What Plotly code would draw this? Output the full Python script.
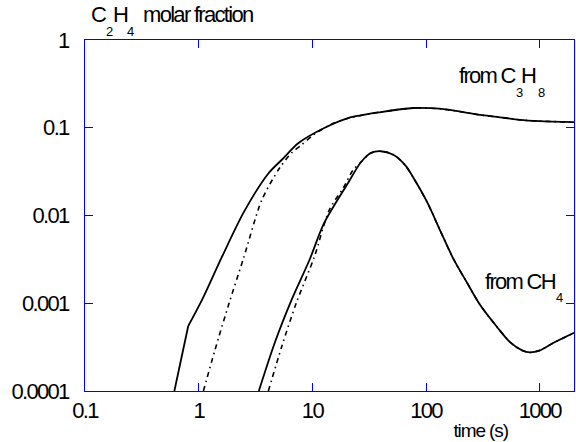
import plotly.graph_objects as go

# ---------------- data ----------------
# C2H4 molar fraction from C3H8, solid curve
c3_solid_t = [0.611, 0.809]
c3_solid_y = [1.0e-4, 5.5e-4]
c3_solid2_t = [0.809, 1.07, 1.60, 2.50, 4.13, 5.36, 7.55, 12.7, 20.6, 40, 77.8, 109, 154, 299, 421, 668, 1000, 2000]
c3_solid2_y = [5.5e-4, 1.09e-3, 3.37e-3, 0.011, 0.0305, 0.0429, 0.067, 0.0993, 0.129, 0.151, 0.168, 0.167, 0.161, 0.140, 0.133, 0.123, 0.119, 0.116]

# C2H4 from C3H8, dash-dot curve
c3_dd_t = [1.10, 1.39, 1.85, 2.50, 3.59, 5.15, 6.56, 8.02, 10.2, 14.7, 20.6, 40, 77.8, 109, 154, 299, 421, 668, 1000, 2000]
c3_dd_y = [1.0e-4, 2.93e-4, 1.0e-3, 3.37e-3, 0.0150, 0.0348, 0.0516, 0.0636, 0.0827, 0.110, 0.128, 0.151, 0.168, 0.167, 0.161, 0.140, 0.133, 0.123, 0.119, 0.116]

# C2H4 from CH4, solid curve
ch4_solid_t = [3.38, 4.66, 6.56, 9.42, 12.7, 20.6, 26.8, 32.7, 40, 52, 66, 80, 103, 134, 174, 230, 299, 421, 547, 700, 820, 1000, 1300, 2000]
ch4_solid_y = [1.0e-4, 3.52e-4, 1.09e-3, 3.11e-3, 8.22e-3, 0.0235, 0.0407, 0.0516, 0.054, 0.049, 0.037, 0.025, 0.0139, 6.6e-3, 3.2e-3, 1.70e-3, 9.55e-4, 5.36e-4, 3.6e-4, 2.9e-4, 2.75e-4, 2.9e-4, 3.5e-4, 4.6e-4]

# C2H4 from CH4, dash-dot curve
ch4_dd_t = [4.1, 5.36, 7.2, 10.4, 14.1, 18.7, 22.8, 26.8, 32.7, 40, 52, 66, 80, 103, 134, 174, 230, 299, 421, 547, 700, 820, 1000, 1300, 2000]
ch4_dd_y = [1.0e-4, 3.17e-4, 1.0e-3, 3.37e-3, 0.0116, 0.0206, 0.033, 0.0407, 0.0516, 0.054, 0.049, 0.037, 0.025, 0.0139, 6.6e-3, 3.2e-3, 1.70e-3, 9.55e-4, 5.36e-4, 3.6e-4, 2.9e-4, 2.75e-4, 2.9e-4, 3.5e-4, 4.6e-4]

x_tickvals = [0.1, 1, 10, 100, 1000]
x_ticktext = ["0.1", "1", "10", "100", "1000"]
y_tickvals = [0.0001, 0.001, 0.01, 0.1, 1]
y_ticktext = ["0.0001", "0.001", "0.01", "0.1", "1"]

# ---------------- figure ----------------
W, H = 576, 442
ML, MR, MT, MB = 82, 1, 40, 51
FONT = "Liberation Sans, Arial, Helvetica, sans-serif"
BLUE = "rgb(0,0,255)"
DASHDOT = "5px,4px,1.5px,4px"

fig = go.Figure()
fig.add_trace(go.Scatter(x=ch4_dd_t, y=ch4_dd_y, mode="lines",
                         line=dict(color="black", width=1.6, dash=DASHDOT, shape="spline", smoothing=0.8)))
fig.add_trace(go.Scatter(x=c3_dd_t, y=c3_dd_y, mode="lines",
                         line=dict(color="black", width=1.6, dash=DASHDOT, shape="spline", smoothing=0.8)))
fig.add_trace(go.Scatter(x=c3_solid_t, y=c3_solid_y, mode="lines",
                         line=dict(color="black", width=1.8)))
fig.add_trace(go.Scatter(x=c3_solid2_t, y=c3_solid2_y, mode="lines",
                         line=dict(color="black", width=1.8, shape="spline", smoothing=0.8)))
fig.add_trace(go.Scatter(x=ch4_solid_t, y=ch4_solid_y, mode="lines",
                         line=dict(color="black", width=1.8, shape="spline", smoothing=0.8)))

axis_common = dict(type="log", showgrid=False, zeroline=False, showline=True,
                   linecolor=BLUE, linewidth=1, mirror="ticks", ticks="inside",
                   ticklen=8, tickwidth=1, tickcolor=BLUE,
                   tickfont=dict(family=FONT, size=22, color="black"))
fig.update_xaxes(range=[-1, 3.30103], tickvals=x_tickvals, ticktext=x_ticktext,
                 ticklabelstandoff=0, **axis_common)
fig.update_yaxes(range=[-4, 0], tickvals=y_tickvals, ticktext=y_ticktext,
                 ticklabelstandoff=11, **axis_common)

pw, ph = W - ML - MR, H - MT - MB


def px(xpix):
    return (xpix - ML) / pw


def py(ypix):
    return (H - MB - ypix) / ph


def label(text, x, y, size, anchor="left"):
    fig.add_annotation(text=text, xref="paper", yref="paper", x=px(x), y=py(y),
                       xanchor=anchor, yanchor="middle", showarrow=False,
                       align="left" if anchor == "left" else "center",
                       font=dict(family=FONT, size=size, color="black"))


# y-axis title
label("C", 86, 15, 22)
label("2", 101, 31, 13)
label("H", 108, 15, 22)
label("4", 122, 31, 13)
label("molar fraction", 138, 15, 22)
# x-axis title
label("time (s)", 481, 431, 19, anchor="center")
# curve labels
label("from C", 457, 75, 22)
label("3", 515, 92, 13)
label("H", 520, 75, 22)
label("8", 537, 92, 13)
label("from CH", 483, 281, 22)
label("4", 555, 297, 13)

fig.update_layout(width=W, height=H, margin=dict(l=ML, r=MR, t=MT, b=MB),
                  paper_bgcolor="white", plot_bgcolor="white", showlegend=False)

# tight character spacing, as in the reference typesetting
post = """
var gd = document.getElementById('{plot_id}');
function squeeze(){
  gd.querySelectorAll('text').forEach(function(t){
    var fs = parseFloat(t.style.fontSize || '0');
    var ls = fs >= 21 ? -1.7 : (fs >= 18 ? -1.1 : -0.3);
    t.style.letterSpacing = ls + 'px';
  });
}
squeeze();
if (gd.on) { gd.on('plotly_afterplot', squeeze); }
"""

fig.write_html("out.html", post_script=post)
